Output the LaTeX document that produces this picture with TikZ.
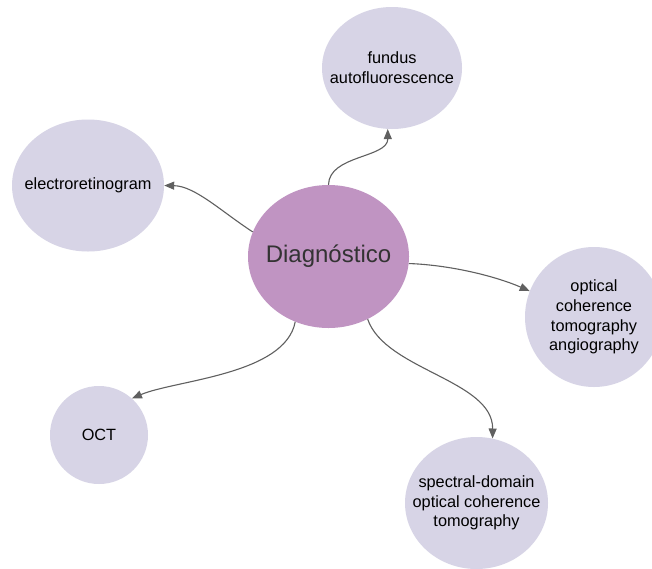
\documentclass[tikz,border=0pt]{standalone}
\usepackage{fontspec}
\setmainfont{Liberation Sans}
\usetikzlibrary{shapes.geometric,arrows.meta}
\definecolor{hubfill}{RGB}{192,148,194}
\definecolor{leaffill}{RGB}{215,212,230}
\definecolor{linkgray}{RGB}{96,96,96}
\definecolor{hubtext}{RGB}{51,51,51}
\tikzset{
  hub/.style={ellipse, fill=hubfill, inner sep=0pt},
  hublabel/.style={text=hubtext, inner sep=0pt, font=\fontsize{24}{28}\selectfont},
  leaf/.style={ellipse, fill=leaffill, inner sep=0pt},
  leaflabel/.style={align=center, text=black, inner sep=0pt,
    font=\fontsize{16.3}{19.7}\selectfont},
  link/.style={draw=linkgray, line width=1.1pt,
    -{Triangle[length=10pt,width=8pt]}}
}
\begin{document}
\begin{tikzpicture}[x=1pt,y=-1pt]
\useasboundingbox (0,0) rectangle (652,568);
\fill[white] (0,0) rectangle (652,568);

% bubbles
\node[hub, minimum width=161pt, minimum height=143pt] (c) at (328.5,256.5) {};
\node[leaf, minimum width=140pt, minimum height=122pt] (faf) at (392,68) {};
\node[leaf, minimum width=152pt, minimum height=132pt] (erg) at (88,185.5) {};
\node[leaf, minimum width=138pt, minimum height=140pt] (octa) at (594,317) {};
\node[leaf, minimum width=98pt, minimum height=98pt] (oct) at (99,435) {};
\node[leaf, minimum width=143pt, minimum height=132pt] (sd) at (476.5,503) {};

% labels
\node[hublabel] (cl) at (c) {Diagnóstico};
\node[leaflabel] (fafl) at (faf) {fundus\\autofluorescence};
\node[leaflabel] (ergl) at (erg) {electroretinogram};
\node[leaflabel] (octal) at (octa) {optical\\coherence\\tomography\\angiography};
\node[leaflabel] (octl) at (oct) {OCT};
\node[leaflabel] (sdl) at (sd) {spectral-domain\\optical coherence\\tomography};

% curved connectors
\draw[link] (c.90) .. controls (329,155) and (388,158) .. (faf.-94);
\draw[link] (c.162) .. controls (222,212) and (195,186) .. (erg.0);
\draw[link] (c.-5) .. controls (450,265) and (495,276) .. (octa.158);
\draw[link] (c.-58) .. controls (385,370) and (493,380) .. (sd.76);
\draw[link] (c.-117) .. controls (285,375) and (175,380) .. (oct.48);
\end{tikzpicture}
\end{document}
